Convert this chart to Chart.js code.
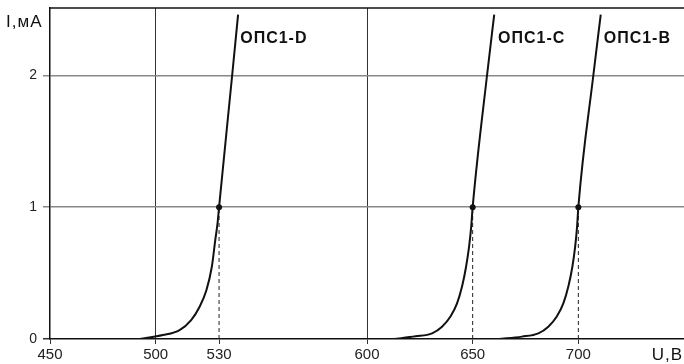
<!DOCTYPE html>
<html>
<head>
<meta charset="utf-8">
<script src="https://cdn.jsdelivr.net/npm/chart.js@4/dist/chart.umd.min.js"></script>
<style>
  html, body { margin: 0; padding: 0; background: #fff; }
  #wrap { width: 684px; height: 364px; }
</style>
</head>
<body>
<div id="wrap"><canvas id="chart"></canvas></div>
<script>
// Curve names and points (U in volts, I in mA)
const seriesNames = ["ОПС1-D", "ОПС1-C", "ОПС1-B"];

const voltageD = [492.5, 503.4, 511.3, 516.8, 520.8, 524, 526.6, 528.2, 529.3, 530, 536.2, 539];
const currentD = [0, 0.03, 0.068, 0.144, 0.245, 0.37, 0.55, 0.75, 0.88, 1, 2, 2.46];

const voltageC = [612.7, 623, 630.8, 635.5, 639.5, 642.6, 645, 646.9, 648.3, 649.3, 650, 656.8, 660.2];
const currentC = [0, 0.02, 0.043, 0.093, 0.17, 0.27, 0.4, 0.55, 0.7, 0.85, 1, 2, 2.46];

const voltageB = [662.3, 673.3, 681.1, 685.8, 689.8, 692.9, 695.3, 697.2, 698.5, 699.4, 700, 707.1, 710.6];
const currentB = [0, 0.018, 0.043, 0.093, 0.17, 0.27, 0.4, 0.55, 0.7, 0.85, 1, 2, 2.46];

// rated point of every device
const ratedVoltage = [530, 650, 700];
const ratedCurrent = 1;

// where the curve names sit
const labelVoltage = [540, 662, 712];
const labelCurrent = 2.28;

const xTickValues = [450, 500, 530, 600, 650, 700];
const yTickValues = [0, 1, 2];
const xGridValues = [500, 600];

const toPoints = (xs, ys) => xs.map((v, i) => ({ x: v, y: ys[i] }));

const curve = (xs, ys) => ({
    data: toPoints(xs, ys),
    borderColor: "#111",
    borderWidth: 2,
    pointRadius: 0,
    cubicInterpolationMode: "monotone",
    fill: false,
});

const dashed = ratedVoltage.map((v) => ({
    data: [{ x: v, y: 0 }, { x: v, y: ratedCurrent }],
    borderColor: "#222",
    borderWidth: 1,
    borderDash: [4, 3],
    pointRadius: 0,
    fill: false,
}));

const ratedPoints = {
    data: ratedVoltage.map((v) => ({ x: v, y: ratedCurrent })),
    showLine: false,
    pointRadius: 3,
    pointBackgroundColor: "#111",
    pointBorderWidth: 0,
};

// frame top line, curve names and axis titles
const textPlugin = {
    id: "texts",
    afterDatasetsDraw(chart) {
        const { ctx, chartArea, scales: { x, y } } = chart;
        ctx.save();
        ctx.strokeStyle = "#111";
        ctx.lineWidth = 1.5;
        ctx.beginPath();
        ctx.moveTo(chartArea.left, chartArea.top);
        ctx.lineTo(chartArea.right, chartArea.top);
        ctx.stroke();

        ctx.fillStyle = "#111";
        ctx.textBaseline = "middle";
        ctx.font = 'bold 16px "Liberation Sans", Arial, sans-serif';
        ctx.letterSpacing = "1px";
        seriesNames.forEach((name, i) => {
            ctx.fillText(name, x.getPixelForValue(labelVoltage[i]), y.getPixelForValue(labelCurrent));
        });

        ctx.font = '17px "Liberation Sans", Arial, sans-serif';
        ctx.letterSpacing = "1px";
        ctx.textAlign = "left";
        ctx.fillText("I,мА", 6, 22);
        ctx.textAlign = "right";
        ctx.fillText("U,В", 683, 355);
        ctx.restore();
    },
};

// no extra room for half tick labels, the plot box is fixed
const noPadding = (scale) => {
    scale.paddingTop = 0;
    scale.paddingBottom = 0;
    scale.paddingLeft = 0;
    scale.paddingRight = 0;
};

new Chart(document.getElementById("chart"), {
    type: "line",
    data: {
        datasets: [
            curve(voltageD, currentD),
            curve(voltageC, currentC),
            curve(voltageB, currentB),
            ...dashed,
            ratedPoints,
        ],
    },
    options: {
        animation: false,
        responsive: true,
        maintainAspectRatio: false,
        layout: { autoPadding: false, padding: { top: 8, right: 0, left: 0, bottom: 0 } },
        plugins: { legend: { display: false }, tooltip: { enabled: false } },
        scales: {
            x: {
                type: "linear",
                min: 450,
                max: 750,
                afterBuildTicks: (scale) => {
                    scale.ticks = xTickValues.map((v) => ({ value: v }));
                },
                afterFit: (scale) => { scale.height = 25; noPadding(scale); },
                border: { color: "#111", width: 1.5 },
                grid: {
                    color: (c) => (c.tick && xGridValues.includes(c.tick.value) ? "#333" : "rgba(0,0,0,0)"),
                    tickColor: "#333",
                    tickLength: 5,
                    lineWidth: 1,
                },
                ticks: {
                    color: "#222",
                    padding: 2,
                    maxRotation: 0,
                    autoSkip: false,
                    font: { family: '"Liberation Sans", Arial, sans-serif', size: 15 },
                },
            },
            y: {
                type: "linear",
                min: 0,
                max: 2.51,
                afterBuildTicks: (scale) => {
                    scale.ticks = yTickValues.map((v) => ({ value: v }));
                },
                afterFit: (scale) => { scale.width = 50; noPadding(scale); },
                border: { color: "#111", width: 1.5 },
                grid: {
                    color: (c) => (c.tick && c.tick.value > 0 ? "#888" : "rgba(0,0,0,0)"),
                    tickColor: (c) => (c.tick && c.tick.value > 0 ? "#888" : "#333"),
                    tickLength: 7,
                    lineWidth: 1.5,
                },
                ticks: {
                    color: "#222",
                    padding: 6,
                    font: { family: '"Liberation Sans", Arial, sans-serif', size: 14 },
                },
            },
        },
    },
    plugins: [textPlugin],
});
</script>
</body>
</html>
